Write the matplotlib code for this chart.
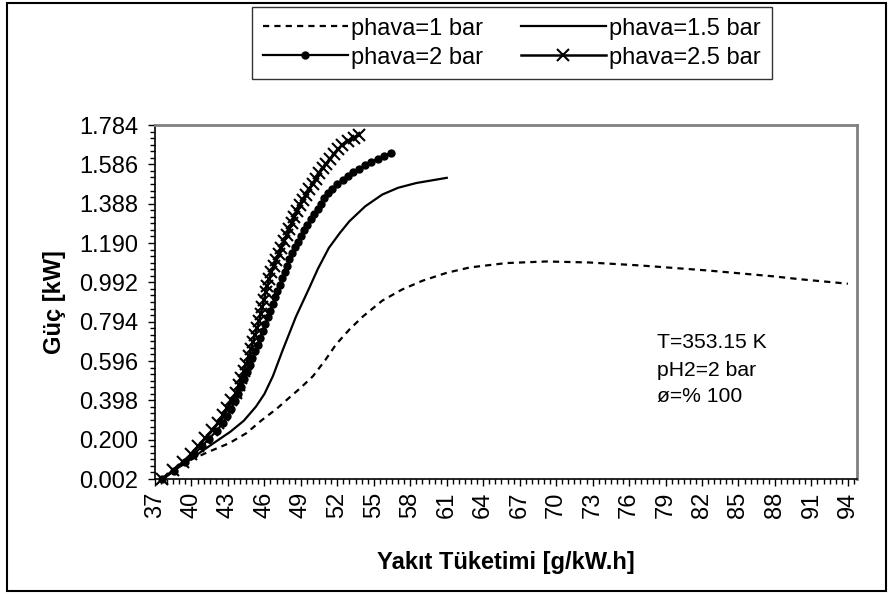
import numpy as np
import matplotlib.pyplot as plt
from matplotlib.ticker import FixedLocator, MultipleLocator
from matplotlib.patches import Rectangle

plt.rcParams["font.family"] = ["Liberation Sans", "DejaVu Sans"]

# phava = 1 bar (dashed line)
x_1bar = [37.6, 38.8, 40.0, 41.45, 43.1, 44.5, 45.8, 47.0, 48.0, 49.0, 50.0, 51.0, 51.9, 53.0,
          54.1, 55.7, 57.3, 59.0, 61.0, 62.9, 65.9, 69.2, 72.7, 76.9, 82.4, 87.9, 90.0, 94.0]
y_1bar = [0.0, 0.055, 0.10, 0.14, 0.182, 0.232, 0.299, 0.355, 0.409, 0.462, 0.52, 0.60, 0.68, 0.755,
          0.82, 0.90, 0.955, 1.00, 1.04, 1.067, 1.089, 1.097, 1.092, 1.077, 1.052, 1.022, 1.008, 0.985]

# phava = 1.5 bar (solid line)
x_15bar = [37.6, 38.8, 40.0, 41.0, 42.0, 43.2, 44.3, 45.3, 46.0, 46.7, 47.5, 48.6, 49.7, 50.4,
           51.3, 52.2, 53.0, 54.3, 55.7, 57.0, 58.5, 61.0]
y_15bar = [0.0, 0.055, 0.105, 0.148, 0.19, 0.24, 0.295, 0.366, 0.43, 0.52, 0.65, 0.82, 0.965, 1.06,
           1.165, 1.24, 1.30, 1.375, 1.434, 1.468, 1.492, 1.518]

# phava = 2 bar (line with dots)
x_2bar = [37.60, 38.55, 39.50, 40.22, 40.84, 41.45, 42.06, 42.57, 42.96, 43.26, 43.56, 43.86, 44.10,
          44.34, 44.57, 44.80, 45.01, 45.23, 45.45, 45.66, 45.87, 46.07, 46.28, 46.48, 46.68, 46.87,
          47.07, 47.26, 47.46, 47.66, 47.85, 48.05, 48.25, 48.49, 48.75, 49.02, 49.28, 49.54, 49.81,
          50.09, 50.37, 50.65, 50.93, 51.21, 51.58, 52.00, 52.43, 52.85, 53.31, 53.79, 54.28, 54.78,
          55.32, 55.86, 56.40]
y_2bar = [0.000, 0.043, 0.086, 0.127, 0.166, 0.205, 0.244, 0.282, 0.319, 0.356, 0.393, 0.430, 0.466,
          0.503, 0.539, 0.575, 0.610, 0.644, 0.679, 0.713, 0.748, 0.782, 0.816, 0.850, 0.883, 0.916,
          0.949, 0.981, 1.013, 1.045, 1.076, 1.108, 1.139, 1.169, 1.197, 1.225, 1.253, 1.281, 1.309,
          1.335, 1.362, 1.388, 1.415, 1.441, 1.464, 1.485, 1.506, 1.527, 1.546, 1.563, 1.581, 1.598,
          1.613, 1.629, 1.644]

# phava = 2.5 bar (line with crosses)
x_25bar = [37.60, 38.46, 39.28, 40.00, 40.57, 41.15, 41.73, 42.19, 42.56, 42.92, 43.29, 43.65, 43.87,
           44.08, 44.29, 44.50, 44.71, 44.88, 45.05, 45.23, 45.40, 45.57, 45.70, 45.83, 45.97, 46.10,
           46.24, 46.40, 46.57, 46.76, 46.96, 47.17, 47.40, 47.62, 47.84, 48.05, 48.26, 48.47, 48.68,
           48.90, 49.15, 49.43, 49.70, 49.97, 50.24, 50.51, 50.78, 51.10, 51.42, 51.74, 52.07, 52.39,
           52.86, 53.33, 53.80]
y_25bar = [0.000, 0.045, 0.087, 0.128, 0.168, 0.208, 0.247, 0.286, 0.323, 0.361, 0.398, 0.436, 0.473,
           0.509, 0.546, 0.583, 0.620, 0.655, 0.690, 0.726, 0.761, 0.797, 0.833, 0.868, 0.904, 0.941,
           0.976, 1.010, 1.043, 1.075, 1.106, 1.136, 1.167, 1.198, 1.229, 1.259, 1.289, 1.320, 1.350,
           1.380, 1.408, 1.434, 1.461, 1.487, 1.513, 1.540, 1.566, 1.590, 1.613, 1.637, 1.661, 1.684,
           1.702, 1.719, 1.736]

x_ticks = list(range(37, 95, 3))
y_ticks = [0.002, 0.200, 0.398, 0.596, 0.794, 0.992, 1.190, 1.388, 1.586, 1.784]
y_ticklabels = ["%.3f" % v for v in y_ticks]
notes = ["T=353.15 K", "pH2=2 bar", "ø=% 100"]

W, H = 893, 594
fig = plt.figure(figsize=(W / 100, H / 100), dpi=100)
ax = fig.add_axes([155 / W, 1 - 479 / H, (857 - 155) / W, (479 - 125) / H])

h1, = ax.plot(x_1bar, y_1bar, color="black", lw=1.6, linestyle=(0, (2.8, 2.3)),
              label="phava=1 bar")
h15, = ax.plot(x_15bar, y_15bar, color="black", lw=1.6, label="phava=1.5 bar")
h2, = ax.plot(x_2bar, y_2bar, color="black", lw=1.6, marker="o", ms=5,
              label="phava=2 bar", clip_on=False)
h25, = ax.plot(x_25bar, y_25bar, color="black", lw=1.8, marker="x", ms=9, mew=1.5,
               label="phava=2.5 bar", clip_on=False)

ax.set_xlim(37, 94.75)
ax.set_ylim(0.002, 1.784)
ax.xaxis.set_major_locator(FixedLocator(x_ticks))
ax.set_xticklabels([str(v) for v in x_ticks])
ax.xaxis.set_minor_locator(MultipleLocator(0.5))
ax.yaxis.set_major_locator(FixedLocator(y_ticks))
ax.set_yticklabels(y_ticklabels)
ax.yaxis.set_minor_locator(MultipleLocator(0.198 / 6, offset=0.002))
ax.tick_params(axis="both", which="major", direction="out", length=5, width=1,
               labelsize=17, color="black")
ax.tick_params(axis="both", which="minor", direction="out", length=3.5, width=1, color="black")
ax.tick_params(axis="x", labelrotation=90, pad=4)
ax.tick_params(axis="y", pad=7)

for side in ["top", "right"]:
    ax.spines[side].set_color("#808080")
    ax.spines[side].set_linewidth(2)
for side in ["left", "bottom"]:
    ax.spines[side].set_color("black")
    ax.spines[side].set_linewidth(1.2)

fig.text(506 / W, 1 - 563 / H, "Yakıt Tüketimi [g/kW.h]", fontsize=17, fontweight="bold",
         ha="center", va="center")
fig.text(55 / W, 1 - 302 / H, "Güç [kW]", fontsize=17, fontweight="bold",
         ha="center", va="center", rotation=90)

for i, line in enumerate(notes):
    fig.text(657 / W, 1 - (343 + 27 * i) / H, line, fontsize=15.2, ha="left", va="center")

leg = fig.legend([h1, h2, h15, h25], ["phava=1 bar", "phava=2 bar", "phava=1.5 bar", "phava=2.5 bar"],
                 ncol=2, loc="upper left", bbox_to_anchor=(252 / W, 1 - 7 / H),
                 fontsize=17, frameon=True, fancybox=False, edgecolor="black",
                 handlelength=3.6, handletextpad=0.15, columnspacing=1.6, labelspacing=0.3,
                 borderpad=0.45, borderaxespad=0)
leg.get_frame().set_linewidth(1.0)

fig.patches.append(Rectangle((7 / W, 3 / H), (886 - 7) / W, (591 - 3) / H,
                             transform=fig.transFigure, fill=False, ec="black", lw=1.5))

fig.savefig("out.png", dpi=100)
